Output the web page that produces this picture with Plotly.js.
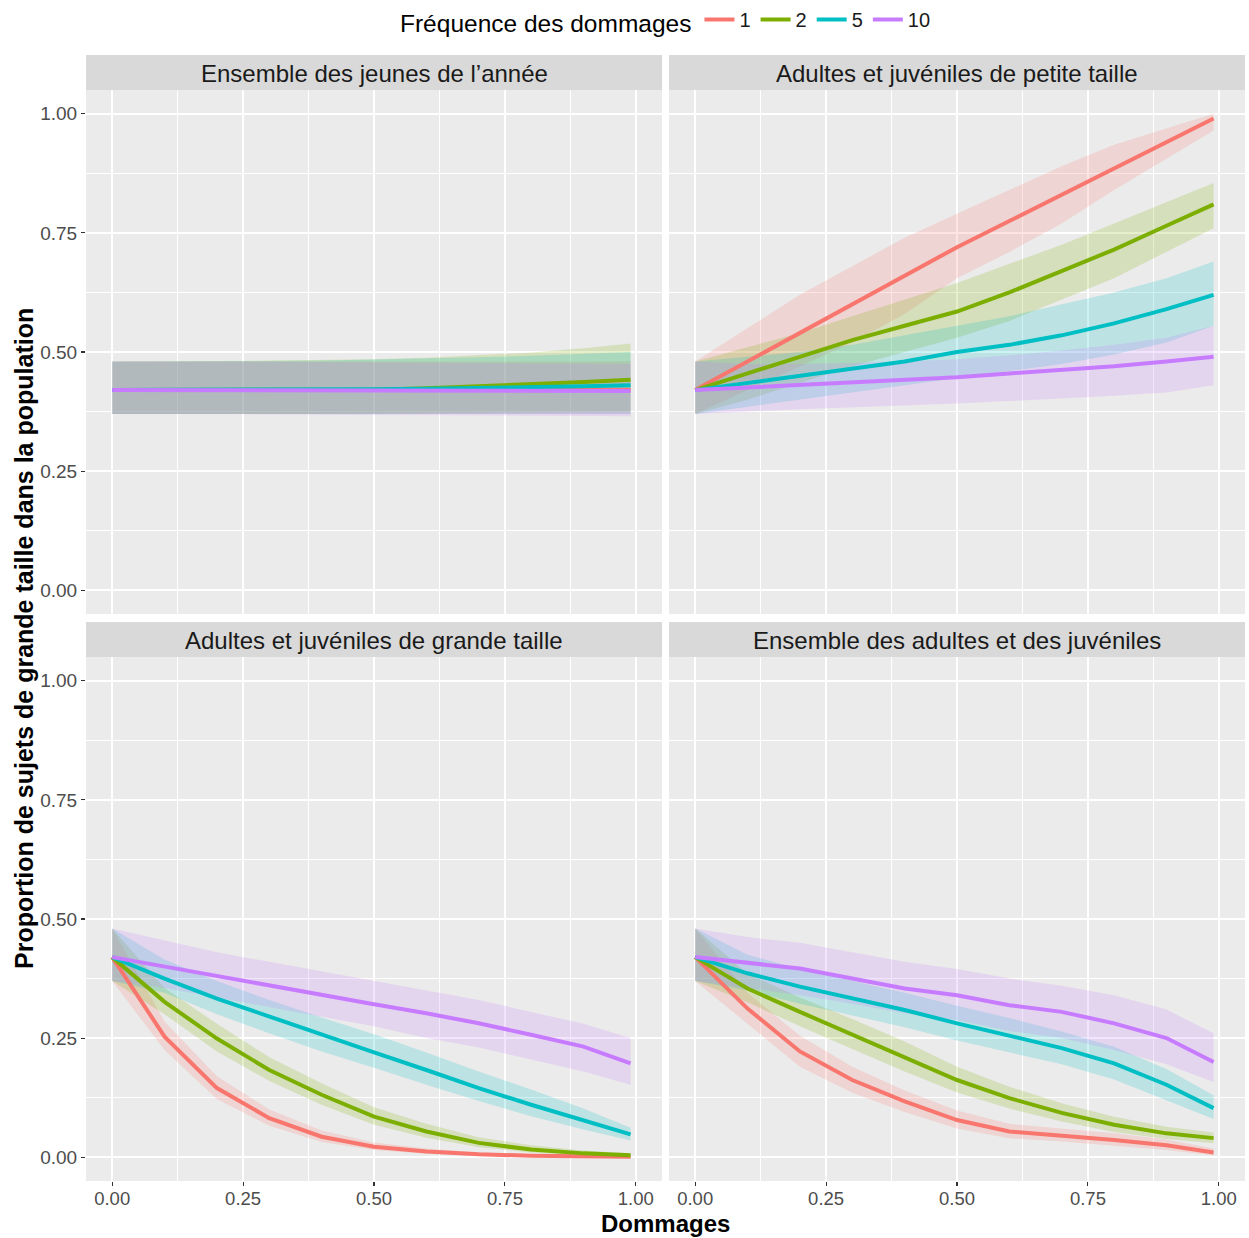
<!DOCTYPE html>
<html>
<head>
<meta charset="utf-8">
<script src="https://cdn.plot.ly/plotly-3.0.1.min.js"></script>
<style>html,body{margin:0;padding:0;background:#fff;}#chart{width:1249px;height:1238px;}</style>
</head>
<body>
<div id="chart"></div>
<script>
// ---------- data ----------
const dommages = [0, 0.1, 0.2, 0.3, 0.4, 0.5, 0.6, 0.7, 0.8, 0.9, 0.99];
const frequences = ["1", "2", "5", "10"];
const panelTitles = [
  "Ensemble des jeunes de l’année",
  "Adultes et juvéniles de petite taille",
  "Adultes et juvéniles de grande taille",
  "Ensemble des adultes et des juvéniles"
];
const xTickVals = [0, 0.25, 0.5, 0.75, 1];
const xTickText = ["0.00", "0.25", "0.50", "0.75", "1.00"];
const yTickVals = [0, 0.25, 0.5, 0.75, 1];
const yTickText = ["0.00", "0.25", "0.50", "0.75", "1.00"];

// Panel 1 : Ensemble des jeunes de l'année
const p1_f1 = [0.42,0.42,0.42,0.42,0.42,0.42,0.42,0.42,0.42,0.42,0.42];
const p1_f1_hi = [0.48,0.48,0.48,0.48,0.48,0.48,0.48,0.48,0.48,0.48,0.48];
const p1_f1_lo = [0.37,0.37,0.37,0.37,0.37,0.37,0.37,0.37,0.37,0.37,0.37];
const p1_f2 = [0.42,0.42,0.42,0.42,0.42,0.421,0.424,0.428,0.432,0.437,0.442];
const p1_f2_hi = [0.48,0.48,0.481,0.482,0.483,0.485,0.488,0.493,0.499,0.508,0.518];
const p1_f2_lo = [0.37,0.37,0.37,0.37,0.37,0.37,0.371,0.372,0.373,0.374,0.375];
const p1_f5 = [0.42,0.42,0.42,0.42,0.421,0.422,0.423,0.424,0.426,0.428,0.43];
const p1_f5_hi = [0.48,0.48,0.48,0.481,0.482,0.484,0.486,0.489,0.492,0.496,0.50];
const p1_f5_lo = [0.37,0.37,0.37,0.37,0.37,0.37,0.37,0.37,0.37,0.37,0.37];
const p1_f10 = [0.42,0.42,0.42,0.42,0.42,0.419,0.419,0.418,0.418,0.418,0.418];
const p1_f10_hi = [0.48,0.48,0.48,0.479,0.479,0.478,0.478,0.477,0.476,0.476,0.475];
const p1_f10_lo = [0.37,0.37,0.37,0.369,0.369,0.368,0.368,0.367,0.366,0.366,0.365];

// Panel 2 : Adultes et juvéniles de petite taille
const p2_f1 = [0.42,0.48,0.54,0.60,0.66,0.72,0.775,0.83,0.885,0.94,0.99];
const p2_f1_hi = [0.48,0.55,0.62,0.68,0.74,0.79,0.84,0.89,0.935,0.97,1.0];
const p2_f1_lo = [0.37,0.42,0.47,0.52,0.58,0.655,0.71,0.77,0.84,0.905,0.965];
const p2_f2 = [0.42,0.455,0.49,0.525,0.555,0.585,0.625,0.67,0.715,0.765,0.81];
const p2_f2_hi = [0.48,0.51,0.54,0.575,0.61,0.645,0.685,0.725,0.77,0.815,0.855];
const p2_f2_lo = [0.37,0.40,0.435,0.47,0.50,0.53,0.565,0.61,0.655,0.71,0.76];
const p2_f5 = [0.42,0.435,0.45,0.465,0.48,0.50,0.515,0.535,0.56,0.59,0.62];
const p2_f5_hi = [0.48,0.49,0.50,0.515,0.535,0.555,0.575,0.60,0.625,0.655,0.69];
const p2_f5_lo = [0.37,0.385,0.40,0.415,0.43,0.445,0.46,0.475,0.495,0.52,0.555];
const p2_f10 = [0.42,0.425,0.43,0.435,0.44,0.447,0.455,0.462,0.47,0.48,0.49];
const p2_f10_hi = [0.48,0.475,0.475,0.478,0.48,0.485,0.493,0.503,0.515,0.53,0.555];
const p2_f10_lo = [0.37,0.375,0.38,0.385,0.388,0.392,0.397,0.402,0.408,0.415,0.43];

// Panel 3 : Adultes et juvéniles de grande taille
const p3_f1 = [0.42,0.253,0.145,0.082,0.043,0.022,0.012,0.006,0.003,0.002,0.001];
const p3_f1_hi = [0.48,0.285,0.17,0.10,0.056,0.031,0.018,0.01,0.006,0.004,0.003];
const p3_f1_lo = [0.37,0.225,0.122,0.066,0.032,0.015,0.007,0.003,0.001,0.0,0.0];
const p3_f2 = [0.42,0.326,0.249,0.183,0.131,0.085,0.054,0.03,0.016,0.008,0.004];
const p3_f2_hi = [0.48,0.355,0.28,0.21,0.155,0.105,0.07,0.042,0.025,0.014,0.008];
const p3_f2_lo = [0.37,0.30,0.222,0.16,0.11,0.068,0.041,0.021,0.01,0.004,0.001];
const p3_f5 = [0.42,0.375,0.333,0.295,0.256,0.22,0.183,0.145,0.11,0.078,0.048];
const p3_f5_hi = [0.48,0.415,0.37,0.33,0.293,0.258,0.22,0.18,0.142,0.102,0.062];
const p3_f5_lo = [0.37,0.345,0.30,0.26,0.222,0.188,0.152,0.118,0.086,0.058,0.035];
const p3_f10 = [0.42,0.40,0.379,0.36,0.34,0.321,0.302,0.281,0.257,0.232,0.197];
const p3_f10_hi = [0.48,0.455,0.43,0.41,0.39,0.37,0.35,0.33,0.305,0.28,0.25];
const p3_f10_lo = [0.37,0.355,0.335,0.315,0.295,0.275,0.25,0.23,0.205,0.18,0.152];

// Panel 4 : Ensemble des adultes et des juvéniles
const p4_f1 = [0.42,0.312,0.222,0.162,0.117,0.078,0.054,0.046,0.036,0.025,0.01];
const p4_f1_hi = [0.48,0.345,0.255,0.19,0.14,0.098,0.07,0.06,0.05,0.037,0.018];
const p4_f1_lo = [0.37,0.28,0.19,0.135,0.095,0.06,0.04,0.033,0.024,0.015,0.004];
const p4_f2 = [0.42,0.354,0.305,0.257,0.211,0.162,0.124,0.093,0.068,0.05,0.04];
const p4_f2_hi = [0.48,0.385,0.335,0.29,0.243,0.19,0.148,0.113,0.085,0.064,0.052];
const p4_f2_lo = [0.37,0.325,0.275,0.227,0.18,0.136,0.102,0.075,0.053,0.038,0.029];
const p4_f5 = [0.42,0.386,0.358,0.333,0.309,0.281,0.256,0.229,0.197,0.152,0.103];
const p4_f5_hi = [0.48,0.425,0.395,0.37,0.345,0.318,0.292,0.264,0.232,0.185,0.13];
const p4_f5_lo = [0.37,0.35,0.322,0.297,0.273,0.245,0.22,0.195,0.163,0.12,0.08];
const p4_f10 = [0.42,0.407,0.396,0.375,0.354,0.34,0.319,0.305,0.281,0.25,0.2];
const p4_f10_hi = [0.48,0.462,0.45,0.43,0.41,0.395,0.375,0.36,0.34,0.31,0.26];
const p4_f10_lo = [0.37,0.355,0.34,0.322,0.302,0.288,0.265,0.25,0.225,0.195,0.158];

// ---------- build ----------
const colors = ["#F8766D", "#7CAE00", "#00BFC4", "#C77CFF"];
const fills = ["rgba(248,118,109,0.2)", "rgba(124,174,0,0.2)", "rgba(0,191,196,0.2)", "rgba(199,124,255,0.2)"];
const panels = [
  {xa: "x", ya: "y", series: [[p1_f1,p1_f1_lo,p1_f1_hi],[p1_f2,p1_f2_lo,p1_f2_hi],[p1_f5,p1_f5_lo,p1_f5_hi],[p1_f10,p1_f10_lo,p1_f10_hi]]},
  {xa: "x2", ya: "y2", series: [[p2_f1,p2_f1_lo,p2_f1_hi],[p2_f2,p2_f2_lo,p2_f2_hi],[p2_f5,p2_f5_lo,p2_f5_hi],[p2_f10,p2_f10_lo,p2_f10_hi]]},
  {xa: "x3", ya: "y3", series: [[p3_f1,p3_f1_lo,p3_f1_hi],[p3_f2,p3_f2_lo,p3_f2_hi],[p3_f5,p3_f5_lo,p3_f5_hi],[p3_f10,p3_f10_lo,p3_f10_hi]]},
  {xa: "x4", ya: "y4", series: [[p4_f1,p4_f1_lo,p4_f1_hi],[p4_f2,p4_f2_lo,p4_f2_hi],[p4_f5,p4_f5_lo,p4_f5_hi],[p4_f10,p4_f10_lo,p4_f10_hi]]}
];

const traces = [];
panels.forEach(function(p) {
  p.series.forEach(function(s, i) {
    const xs = dommages.concat(dommages.slice().reverse());
    const ys = s[2].concat(s[1].slice().reverse());
    traces.push({
      type: "scatter", mode: "lines", x: xs, y: ys, xaxis: p.xa, yaxis: p.ya,
      fill: "toself", fillcolor: fills[i], line: {width: 0, color: fills[i]},
      showlegend: false, hoverinfo: "skip", legendgroup: frequences[i]
    });
  });
});
panels.forEach(function(p, pi) {
  p.series.forEach(function(s, i) {
    traces.push({
      type: "scatter", mode: "lines", x: dommages, y: s[0], xaxis: p.xa, yaxis: p.ya,
      line: {width: 4, color: colors[i]}, name: frequences[i],
      legendgroup: frequences[i], showlegend: pi === 0
    });
  });
});

const W = 1249, H = 1238;
const FONT = "Liberation Sans, Arial, sans-serif";
function px2x(p) { return p / W; }
function px2y(p) { return 1 - p / H; }

function axisCfg(domain, anchor, showLabels, vals, text, isX) {
  const a = {
    domain: domain, anchor: anchor, range: [-0.05, 1.05],
    tickmode: "array", tickvals: vals, ticktext: text,
    showticklabels: showLabels, ticks: showLabels ? "outside" : "", ticklen: 4, tickwidth: 1.1, tickcolor: "#333333",
    tickfont: {family: FONT, size: isX ? 18.5 : 19, color: "#4D4D4D"},
    showgrid: true, gridcolor: "#FFFFFF", gridwidth: 2,
    minor: {tickvals: [0.125, 0.375, 0.625, 0.875], showgrid: true, gridcolor: "#FFFFFF", gridwidth: 1, ticks: ""},
    zeroline: false, showline: false, fixedrange: true
  };
  if (isX) a.ticklabelstandoff = -3;
  return a;
}

const xL = [px2x(86), px2x(662)], xR = [px2x(669), px2x(1245)];
const yT = [px2y(614), px2y(90)], yB = [px2y(1181), px2y(657)];

const shapes = [];
const annotations = [];
const strips = [
  {x: xL, y0: 55, y1: 90}, {x: xR, y0: 55, y1: 90},
  {x: xL, y0: 622, y1: 657}, {x: xR, y0: 622, y1: 657}
];
strips.forEach(function(s, i) {
  shapes.push({type: "rect", xref: "paper", yref: "paper", x0: s.x[0], x1: s.x[1], y0: px2y(s.y1), y1: px2y(s.y0),
    fillcolor: "#D9D9D9", line: {width: 0}, layer: "below"});
  annotations.push({xref: "paper", yref: "paper", x: (s.x[0] + s.x[1]) / 2, y: px2y((s.y0 + s.y1) / 2 + 1),
    xanchor: "center", yanchor: "middle", showarrow: false, text: panelTitles[i],
    font: {family: FONT, size: 24, color: "#1A1A1A"}});
});
annotations.push({xref: "paper", yref: "paper", x: px2x(665), y: 0, xanchor: "center", yanchor: "bottom",
  showarrow: false, text: "Dommages", borderpad: 0, font: {family: FONT, size: 24, color: "#000000", weight: "bold"}});
annotations.push({xref: "paper", yref: "paper", x: px2x(24), y: px2y(639), xanchor: "center", yanchor: "middle",
  showarrow: false, textangle: -90, text: "Proportion de sujets de grande taille dans la population",
  font: {family: FONT, size: 25, color: "#000000", weight: "bold"}});

const layout = {
  width: W, height: H,
  margin: {l: 0, r: 0, t: 0, b: 0},
  paper_bgcolor: "#FFFFFF", plot_bgcolor: "#EBEBEB",
  font: {family: FONT},
  xaxis: axisCfg(xL, "y", false, xTickVals, xTickText, true),
  yaxis: axisCfg(yT, "x", true, yTickVals, yTickText, false),
  xaxis2: axisCfg(xR, "y2", false, xTickVals, xTickText, true),
  yaxis2: axisCfg(yT, "x2", false, yTickVals, yTickText, false),
  xaxis3: axisCfg(xL, "y3", true, xTickVals, xTickText, true),
  yaxis3: axisCfg(yB, "x3", true, yTickVals, yTickText, false),
  xaxis4: axisCfg(xR, "y4", true, xTickVals, xTickText, true),
  yaxis4: axisCfg(yB, "x4", false, yTickVals, yTickText, false),
  showlegend: true,
  legend: {
    orientation: "h", x: px2x(667), xanchor: "center", y: 1.0, yanchor: "top",
    title: {text: "Fréquence des dommages", side: "left", font: {family: FONT, size: 24.5, color: "#000000"}},
    font: {family: FONT, size: 20, color: "#1A1A1A"},
    itemwidth: 30, bgcolor: "rgba(255,255,255,0)", traceorder: "normal"
  },
  shapes: shapes,
  annotations: annotations,
  hovermode: false
};

Plotly.newPlot("chart", traces, layout, {staticPlot: true, displayModeBar: false});
</script>
</body>
</html>
